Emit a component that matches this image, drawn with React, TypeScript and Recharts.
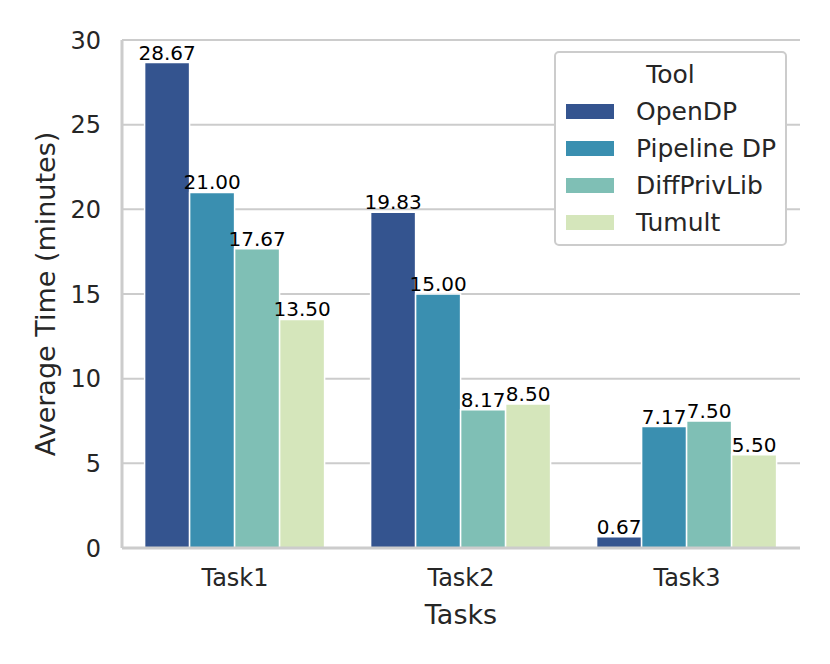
import React from 'react';
import { BarChart, Bar, XAxis, YAxis, CartesianGrid, Legend, LabelList } from 'recharts';

const tasks = ['Task1', 'Task2', 'Task3'];
const tools = ['OpenDP', 'Pipeline DP', 'DiffPrivLib', 'Tumult'];
const colors = ['#34548f', '#3a8fb0', '#7fbfb5', '#d5e6bb'];
const openDP = [28.67, 19.83, 0.67];
const pipelineDP = [21.0, 15.0, 7.17];
const diffPrivLib = [17.67, 8.17, 7.5];
const tumult = [13.5, 8.5, 5.5];
const yTicks = [0, 5, 10, 15, 20, 25, 30];

const series = [openDP, pipelineDP, diffPrivLib, tumult];
const data = tasks.map((t, i) => {
  const row: Record<string, any> = { task: t };
  tools.forEach((tool, j) => { row[tool] = series[j][i]; });
  return row;
});

const FONT = '"DejaVu Sans", sans-serif';
const GRID = '#cccccc';
const TEXT = '#262626';

function ToolLegend() {
  return (
    <div style={{
      background: '#fff', border: `2px solid ${GRID}`, borderRadius: 5, boxSizing: 'border-box',
      width: 233, height: 195, fontFamily: FONT, color: TEXT, paddingTop: 4,
    }}>
      <div style={{ textAlign: 'center', fontSize: 25, lineHeight: '36px' }}>Tool</div>
      {tools.map((tool, i) => (
        <div key={tool} style={{ display: 'flex', alignItems: 'center', height: 37 }}>
          <span style={{ display: 'inline-block', width: 48, height: 15, background: colors[i], marginLeft: 10, marginRight: 22 }} />
          <span style={{ fontSize: 25 }}>{tool}</span>
        </div>
      ))}
    </div>
  );
}

export default function App() {
  return (
    <div style={{ position: 'absolute', left: 0, top: 0, background: '#fff' }}>
      <BarChart
        width={830}
        height={664}
        data={data}
        margin={{ top: 40, right: 30, bottom: 36, left: 0 }}
        barCategoryGap="10%"
        barGap={0}
        style={{ fontFamily: FONT }}
      >
        <CartesianGrid vertical={false} stroke={GRID} strokeWidth={2} />
        <XAxis
          dataKey="task"
          height={80}
          tickLine={false}
          tickSize={0}
          tickMargin={21}
          axisLine={{ stroke: GRID, strokeWidth: 3 }}
          tick={{ fill: TEXT, fontSize: 24 }}
          label={{ value: 'Tasks', position: 'insideBottom', offset: 4, fill: TEXT, fontSize: 27 }}
        />
        <XAxis xAxisId="top" orientation="top" dataKey="task" height={0} tick={false} tickLine={false} axisLine={{ stroke: GRID, strokeWidth: 3 }} />
        <YAxis
          width={122}
          domain={[0, 30]}
          ticks={yTicks}
          tickLine={false}
          tickSize={0}
          tickMargin={21}
          axisLine={{ stroke: GRID, strokeWidth: 3 }}
          tick={{ fill: TEXT, fontSize: 24 }}
          label={{ value: 'Average Time (minutes)', angle: -90, position: 'insideLeft', offset: 45, fill: TEXT, fontSize: 27, style: { textAnchor: 'middle' } }}
        />
        <YAxis yAxisId="right" orientation="right" width={0} domain={[0, 30]} tick={false} tickLine={false} axisLine={{ stroke: GRID, strokeWidth: 3 }} />
        <Legend
          layout="horizontal"
          verticalAlign="middle"
          align="center"
          wrapperStyle={{ top: 51, left: 554, width: 233 }}
          content={() => <ToolLegend />}
        />
        {tools.map((tool, i) => (
          <Bar key={tool} dataKey={tool} name={tool} fill={colors[i]} stroke="#ffffff" strokeWidth={1.5} isAnimationActive={false}>
            <LabelList
              dataKey={tool}
              position="top"
              offset={3}
              formatter={(v: any) => Number(v).toFixed(2)}
              style={{ fill: '#000', fontSize: 20, fontFamily: FONT }}
            />
          </Bar>
        ))}
      </BarChart>
    </div>
  );
}
